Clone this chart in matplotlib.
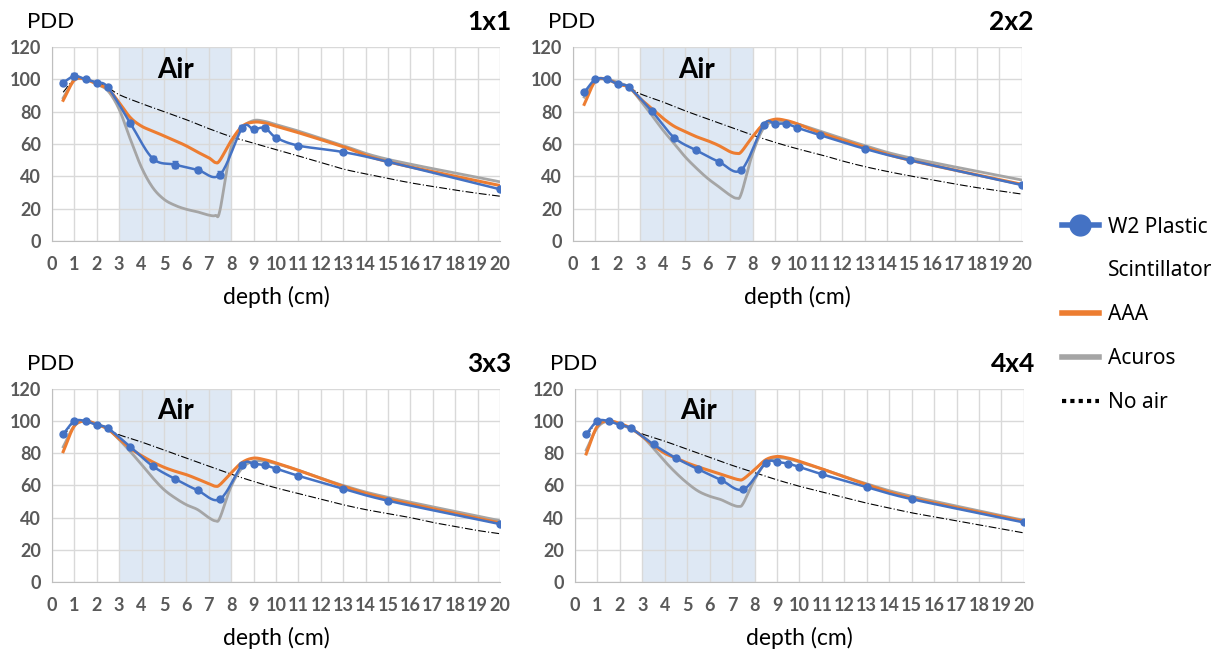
import numpy as np
import matplotlib
matplotlib.use("Agg")
import matplotlib.pyplot as plt
from matplotlib.lines import Line2D

# depth positions (cm)
x_meas = [0.5, 1, 1.5, 2, 2.5, 3.5, 4.5, 5.5, 6.5, 7.5, 8.5, 9, 9.5, 10, 11, 13, 15, 20]
x_calc = [0.5, 1, 1.5, 2, 2.5, 3, 3.5, 4, 4.5, 5, 5.5, 6, 6.5, 7, 7.3, 7.5, 8, 8.5, 9, 9.5,
          10, 11, 13, 15, 20]
x_noair = [0.5, 1, 1.5, 2, 2.5, 3, 4, 5, 6, 7, 8, 9, 10, 11, 12, 13, 14, 15, 16, 17, 18, 19, 20]

fields = ["1x1", "2x2", "3x3", "4x4"]

# W2 plastic scintillator measurements
w2_1x1 = [98, 102, 100, 98, 95, 72.8, 51, 47.2, 44, 41, 70, 69, 70, 64, 59, 55, 49, 32]
w2_2x2 = [92, 100, 100, 97, 95, 80.5, 64, 56, 49, 44, 72, 72.5, 72.5, 70, 65.5, 57, 50, 34.6]
w2_3x3 = [92, 100, 100, 97.5, 95.5, 84, 72, 64, 57, 51.5, 73, 73.5, 72.5, 70.5, 66, 58, 50.5, 36]
w2_4x4 = [92, 100, 100, 97.5, 95.5, 85.5, 77, 70, 63.5, 57.5, 74, 74.5, 73.5, 71.5, 67, 59, 51.5, 37]
w2_err_1x1 = [1.5, 2, 1, 1, 1, 1.5, 1.5, 2, 1.5, 2, 1.5, 1.5, 1.5, 1.5, 1, 1, 1, 1]

# AAA calculation
aaa_1x1 = [87, 99.5, 100, 97, 94, 85.6, 76.3, 71, 68, 65, 62, 58.8, 55, 51.5, 48.5, 50, 62, 71,
           73.5, 73, 71, 67, 58.3, 49, 34.3]
aaa_2x2 = [84.5, 99, 100, 97, 95, 88, 82, 76, 71, 67.7, 64.5, 62, 59, 55.2, 54.2, 55.2, 64.5,
           72.4, 75.3, 74.5, 72.4, 67, 58, 50, 35]
aaa_3x3 = [81, 97, 100, 98, 95, 89, 83, 78.5, 74.6, 71.3, 68.8, 66.7, 64, 61, 59.5, 60.5, 67.8,
           74.4, 77, 76, 74, 69.4, 59.5, 51.6, 36.7]
aaa_4x4 = [79.6, 97, 100, 98.5, 95.5, 90.5, 84.8, 80, 77, 74, 71.5, 69.2, 67, 64.7, 63.6, 64,
           69.8, 76, 78, 77, 75, 70.3, 60.5, 52.2, 37.7]

# Acuros calculation
acu_1x1 = [88.5, 99.5, 100, 97, 92.8, 81.4, 62.9, 45.4, 33, 25.8, 22, 19.6, 18, 16, 15.8, 19,
           58, 70, 74.5, 74, 72, 68, 59, 50.5, 36.6]
acu_2x2 = [89, 99, 100, 98, 95, 87, 78, 68.7, 60.4, 52, 45, 38.7, 33.5, 28.3, 26.5, 29.4, 54,
           70, 74, 73.7, 72.4, 68, 59, 51.5, 37.7]
acu_3x3 = [84, 97, 100, 98, 95, 88.5, 81, 73, 64.7, 57.4, 52.2, 48, 45, 40, 38, 40, 59.5, 71,
           75, 75, 73.6, 69.4, 60, 52.6, 38.1]
acu_4x4 = [82, 96, 100, 98, 95, 90.5, 83, 75, 67.8, 61.5, 56.4, 53.3, 51.2, 48, 47, 49, 63.6,
           74, 77, 76.5, 74.6, 70.3, 61, 53.3, 38.3]

# no air reference
noair_1x1 = [92, 100, 100, 98, 95, 90.5, 85, 80, 75, 69.5, 64.5, 60.5, 56.5, 52.6, 48.5, 44.5,
             41.5, 38.7, 36, 33.7, 31.5, 29.5, 27.7]
noair_2x2 = [91, 100, 100, 98, 95, 91, 86, 80.5, 75.5, 70.5, 65.5, 61, 57, 53.5, 49.5, 46, 43,
             40.3, 37.8, 35.3, 33, 31, 29]
noair_3x3 = [90, 100, 100, 98, 95, 91.5, 87, 82, 77, 72, 67, 62.5, 58.5, 55, 51.5, 48, 45,
             42.5, 40, 37, 34.5, 32, 30]
noair_4x4 = [90, 100, 100, 98, 95, 92, 87.5, 82.5, 77.5, 72.5, 68, 63.5, 59.5, 56, 52.5, 49,
             46, 43, 40.5, 38, 35.5, 33, 30.5]

w2 = [w2_1x1, w2_2x2, w2_3x3, w2_4x4]
aaa = [aaa_1x1, aaa_2x2, aaa_3x3, aaa_4x4]
acu = [acu_1x1, acu_2x2, acu_3x3, acu_4x4]
noair = [noair_1x1, noair_2x2, noair_3x3, noair_4x4]

BLUE = "#4472C4"
ORANGE = "#ED7D31"
GREY = "#A5A5A5"
AIR = "#DEE8F4"
GRID = "#D9D9D9"
TICK = "#595959"


def smooth(x, y, n=20):
    # excel-like smoothed line (catmull-rom through the points)
    p = np.column_stack([x, y]).astype(float)
    p = np.vstack([2 * p[0] - p[1], p, 2 * p[-1] - p[-2]])
    out = []
    t = np.linspace(0, 1, n, endpoint=False)[:, None]
    for i in range(1, len(p) - 2):
        p0, p1, p2, p3 = p[i - 1], p[i], p[i + 1], p[i + 2]
        seg = 0.5 * ((2 * p1) + (-p0 + p2) * t + (2 * p0 - 5 * p1 + 4 * p2 - p3) * t ** 2
                     + (-p0 + 3 * p1 - 3 * p2 + p3) * t ** 3)
        out.append(seg)
    out.append(p[-2][None, :])
    out = np.vstack(out)
    return out[:, 0], out[:, 1]


plt.rcParams['font.family'] = ['Lato', 'DejaVu Sans']

fig = plt.figure(figsize=(12.32, 6.57), dpi=100)
boxes = [
    [0.0422, 0.6332, 0.3636, 0.2953],
    [0.4651, 0.6332, 0.3644, 0.2953],
    [0.0422, 0.1142, 0.3636, 0.2938],
    [0.4667, 0.1142, 0.3644, 0.2938],
]

for i, box in enumerate(boxes):
    ax = fig.add_axes(box)
    ax.axvspan(3, 8, color=AIR, zorder=0, lw=0)
    ax.set_xlim(0, 20)
    ax.set_ylim(0, 120)
    ax.set_xticks(range(0, 21))
    ax.set_yticks(range(0, 121, 20))
    ax.grid(True, color=GRID, lw=1)
    ax.set_axisbelow(True)
    for s in ["top", "right"]:
        ax.spines[s].set_visible(False)
    for s in ["left", "bottom"]:
        ax.spines[s].set_color("#BFBFBF")
    ax.tick_params(length=0, labelsize=13, labelcolor=TICK)
    ax.tick_params(axis="x", pad=11)
    ax.tick_params(axis="y", pad=8)
    for lab in ax.get_xticklabels() + ax.get_yticklabels():
        lab.set_fontweight("bold")

    sx, sy = smooth(x_noair, noair[i])
    ax.plot(sx, sy, color="black", lw=0.8, ls=(0, (7, 2, 1, 2)), zorder=2)
    sx, sy = smooth(x_calc, acu[i])
    ax.plot(sx, sy, color=GREY, lw=2, zorder=3)
    sx, sy = smooth(x_calc, aaa[i])
    ax.plot(sx, sy, color=ORANGE, lw=2.2, zorder=4)
    sx, sy = smooth(x_meas, w2[i])
    ax.plot(sx, sy, color=BLUE, lw=1.8, zorder=5)
    if i == 0:
        ax.errorbar(x_meas, w2[i], yerr=w2_err_1x1, fmt="o", color=BLUE, ms=5,
                    elinewidth=1, capsize=2, zorder=6)
    else:
        ax.plot(x_meas, w2[i], "o", color=BLUE, ms=5, zorder=6)

    ax.text(5.5, 106, "Air", ha="center", va="center", fontsize=20,
            fontweight="bold", color="black")
    ax.set_xlabel("depth (cm)", fontsize=16.5, labelpad=9)
    ax.text(-0.055, 1.13, "PDD", transform=ax.transAxes, fontsize=16, ha="left",
            va="center")
    ax.text(1.025, 1.13, fields[i], transform=ax.transAxes, fontsize=19,
            fontweight="bold", ha="right", va="center")

handles = [
    Line2D([], [], color=BLUE, lw=4, marker="o", ms=15),
    Line2D([], [], color="none"),
    Line2D([], [], color=ORANGE, lw=4),
    Line2D([], [], color=GREY, lw=4),
    Line2D([], [], color="black", lw=3, ls=(0, (1, 1))),
]
labels = ["W2 Plastic", "Scintillator", "AAA", "Acuros", "No air"]
fig.legend(handles, labels, loc="upper left", bbox_to_anchor=(0.847, 0.699),
           frameon=False, handlelength=1.75, handletextpad=0.45,
           labelspacing=1.1, prop={"family": ["Noto Sans", "DejaVu Sans"], "size": 15})

fig.savefig("out.png", dpi=100)
